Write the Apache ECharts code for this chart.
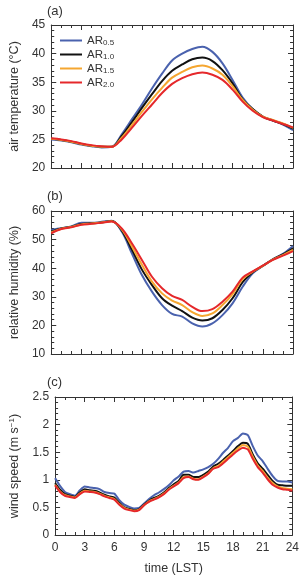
<!DOCTYPE html>
<html>
<head>
<meta charset="utf-8">
<script src="https://cdn.jsdelivr.net/npm/echarts@6/dist/echarts.min.js"></script>
<style>
  html, body { margin: 0; padding: 0; background: #fff; }
  #main { width: 302px; height: 576px; }
</style>
</head>
<body>
<div id="main"></div>
<script>
// hours of the day (LST)
var hours = [0,1,2,3,4,5,6,7,8,9,10,11,12,13,14,15,16,17,18,19,20,21,22,23,24];
var halfHours = [0,0.5,1,1.5,2,2.5,3,3.5,4,4.5,5,5.5,6,6.5,7,7.5,8,8.5,9,9.5,10,10.5,11,11.5,12,
  12.5,13,13.5,14,14.5,15,15.5,16,16.5,17,17.5,18,18.5,19,19.5,20,20.5,21,21.5,22,22.5,23,23.5,24];

var seriesNames = ['AR0.5', 'AR1.0', 'AR1.5', 'AR2.0'];
var colors = ['#4a62ae', '#111111', '#f5a630', '#e5282b'];

// (a) air temperature
var tempAR05 = [25.0,24.8,24.5,24.1,23.8,23.6,23.7,25.9,28.5,31.1,33.9,36.5,38.8,40.0,40.8,41.2,40.3,38.3,35.4,32.3,30.3,29.0,28.3,27.6,26.6];
var tempAR10 = [25.1,24.9,24.6,24.2,23.9,23.7,23.7,25.6,28.0,30.5,32.9,35.2,37.0,38.1,39.0,39.3,38.7,37.1,34.8,32.0,30.3,29.0,28.3,27.7,26.9];
var tempAR15 = [25.1,24.9,24.6,24.2,23.9,23.7,23.7,25.3,27.5,29.8,32.0,34.0,35.8,36.8,37.6,37.9,37.4,36.3,34.3,31.9,30.2,29.0,28.4,27.8,27.0];
var tempAR20 = [25.2,25.0,24.7,24.3,24.0,23.8,23.7,25.0,27.0,29.1,31.1,33.1,34.7,35.7,36.4,36.7,36.3,35.4,33.7,31.6,30.0,28.9,28.3,27.7,27.1];

// (b) relative humidity
var rhAR05 = [53.4,54.0,54.6,55.9,55.9,56.2,56.6,52.8,45.2,37.6,31.8,27.1,24.0,23.1,20.7,19.6,20.7,23.6,27.7,33.5,38.2,40.8,43.1,45.0,47.8];
var rhAR10 = [52.8,53.9,54.5,55.5,55.7,56.0,56.5,53.2,46.5,39.5,34.1,29.5,26.9,25.0,22.7,21.7,22.5,25.4,29.5,35.1,38.6,40.8,43.1,44.8,46.9];
var rhAR15 = [52.5,53.8,54.4,55.3,55.6,56.0,56.4,53.6,47.7,41.2,35.3,31.2,28.7,27.1,24.6,23.3,24.2,27.1,30.9,36.2,38.8,40.8,43.0,44.6,46.4];
var rhAR20 = [52.2,53.7,54.3,55.2,55.5,55.9,56.3,53.9,48.7,42.9,37.0,33.0,30.3,28.9,26.5,25.0,25.7,28.3,31.8,36.7,38.9,40.9,42.9,44.4,46.0];

// (c) wind speed, every half hour
var wsAR05 = [1.03,0.89,0.78,0.74,0.71,0.81,0.88,0.86,0.85,0.83,0.78,0.76,0.75,0.63,0.55,0.51,0.48,0.49,0.57,0.65,0.72,0.77,0.83,0.90,0.99,
  1.06,1.15,1.16,1.13,1.16,1.19,1.23,1.29,1.38,1.49,1.58,1.70,1.76,1.84,1.81,1.61,1.44,1.34,1.20,1.07,0.98,0.97,0.97,0.95];
var wsAR10 = [0.94,0.82,0.74,0.71,0.69,0.77,0.83,0.81,0.80,0.77,0.73,0.70,0.68,0.58,0.50,0.47,0.45,0.47,0.55,0.62,0.67,0.71,0.77,0.85,0.92,
  0.98,1.09,1.09,1.05,1.05,1.09,1.15,1.24,1.29,1.36,1.44,1.52,1.61,1.67,1.65,1.46,1.30,1.20,1.09,0.98,0.91,0.90,0.89,0.89];
var wsAR15 = [0.91,0.79,0.72,0.70,0.68,0.75,0.80,0.79,0.78,0.75,0.71,0.68,0.65,0.56,0.49,0.46,0.44,0.46,0.54,0.61,0.65,0.69,0.75,0.83,0.89,
  0.95,1.05,1.06,1.02,1.01,1.06,1.12,1.21,1.25,1.33,1.41,1.49,1.57,1.63,1.60,1.42,1.26,1.16,1.04,0.94,0.88,0.85,0.84,0.83];
var wsAR20 = [0.90,0.78,0.71,0.69,0.67,0.74,0.79,0.78,0.77,0.74,0.70,0.67,0.64,0.55,0.48,0.45,0.43,0.45,0.54,0.60,0.64,0.68,0.74,0.82,0.88,
  0.94,1.03,1.05,1.01,1.00,1.05,1.11,1.20,1.23,1.30,1.38,1.46,1.53,1.58,1.55,1.38,1.23,1.13,1.01,0.91,0.86,0.83,0.82,0.80];

var FONT = 'Liberation Sans';
var TXT = '#333';

function pairs(xs, ys) {
  return xs.map(function (x, i) { return [x, ys[i]]; });
}

var grids = [
  { left: 46, right: 9, top: 25, height: 143 },
  { left: 46, right: 9, top: 211, height: 143 },
  { left: 46, right: 9, top: 397, height: 144 }
];

var xAxes = [], yAxes = [];
var yRanges = [[20, 45, 5], [10, 60, 10], [0, 2.5, 0.5]];
var yNames = ['air temperature (°C)', 'relative humidity (%)', 'wind speed (m s{sup|−1})'];

for (var g = 0; g < 3; g++) {
  ['bottom', 'top'].forEach(function (pos) {
    xAxes.push({
      type: 'value', gridIndex: g, position: pos, min: 0, max: 24, interval: 3,
      axisLine: { show: true, onZero: false, lineStyle: { color: TXT, width: 1 } },
      axisTick: { inside: true, length: 5, lineStyle: { color: TXT } },
      minorTick: { show: true, splitNumber: 3, length: 3, lineStyle: { color: TXT } },
      splitLine: { show: false },
      axisLabel: { show: g === 2 && pos === 'bottom', color: TXT, fontFamily: FONT, fontSize: 12, margin: 7 },
      name: (g === 2 && pos === 'bottom') ? 'time (LST)' : '',
      nameLocation: 'middle', nameGap: 27,
      nameTextStyle: { color: TXT, fontFamily: FONT, fontSize: 12.5 }
    });
  });
  ['left', 'right'].forEach(function (pos) {
    var r = yRanges[g];
    yAxes.push({
      type: 'value', gridIndex: g, position: pos, min: r[0], max: r[1], interval: r[2],
      axisLine: { show: true, onZero: false, lineStyle: { color: TXT, width: 1 } },
      axisTick: { inside: true, length: 5, lineStyle: { color: TXT } },
      minorTick: { show: true, splitNumber: 5, length: 3, lineStyle: { color: TXT } },
      splitLine: { show: false },
      axisLabel: { show: pos === 'left', color: TXT, fontFamily: FONT, fontSize: 12, margin: 6 },
      name: pos === 'left' ? yNames[g] : '',
      nameLocation: 'middle', nameGap: 30, nameRotate: 90,
      nameTextStyle: {
        color: TXT, fontFamily: FONT, fontSize: 12.5,
        rich: { sup: { fontSize: 8, fontFamily: FONT, color: TXT, verticalAlign: 'top', padding: [0, 0, 6, 0] } }
      }
    });
  });
}

var panelData = [
  [hours, [tempAR05, tempAR10, tempAR15, tempAR20]],
  [hours, [rhAR05, rhAR10, rhAR15, rhAR20]],
  [halfHours, [wsAR05, wsAR10, wsAR15, wsAR20]]
];

var series = [];
panelData.forEach(function (p, g) {
  p[1].forEach(function (vals, k) {
    series.push({
      name: seriesNames[k], type: 'line',
      xAxisIndex: g * 2, yAxisIndex: g * 2,
      data: pairs(p[0], vals),
      symbol: 'none', smooth: g === 2 ? 0.2 : 0.35,
      lineStyle: { color: colors[k], width: 2 },
      itemStyle: { color: colors[k] },
      z: 2 + k
    });
  });
});

var chart = echarts.init(document.getElementById('main'));
chart.setOption({
  backgroundColor: '#fff',
  animation: false,
  title: [
    { text: '(a)', left: 42, top: 0, textStyle: { fontFamily: FONT, fontSize: 13, fontWeight: 'normal', color: TXT } },
    { text: '(b)', left: 42, top: 185, textStyle: { fontFamily: FONT, fontSize: 13, fontWeight: 'normal', color: TXT } },
    { text: '(c)', left: 42, top: 371, textStyle: { fontFamily: FONT, fontSize: 13, fontWeight: 'normal', color: TXT } }
  ],
  legend: {
    orient: 'vertical', left: 55, top: 29,
    icon: 'rect', itemWidth: 22, itemHeight: 2, itemGap: 1,
    data: seriesNames,
    formatter: function (name) { return 'AR{sub|' + name.slice(2) + '}'; },
    textStyle: {
      color: TXT, fontFamily: FONT, fontSize: 11.5, lineHeight: 13,
      rich: { sub: { fontSize: 8, fontFamily: FONT, color: TXT, lineHeight: 13, verticalAlign: 'bottom', padding: [4, 0, 0, 0] } }
    }
  },
  grid: grids,
  xAxis: xAxes,
  yAxis: yAxes,
  series: series
});
</script>
</body>
</html>
